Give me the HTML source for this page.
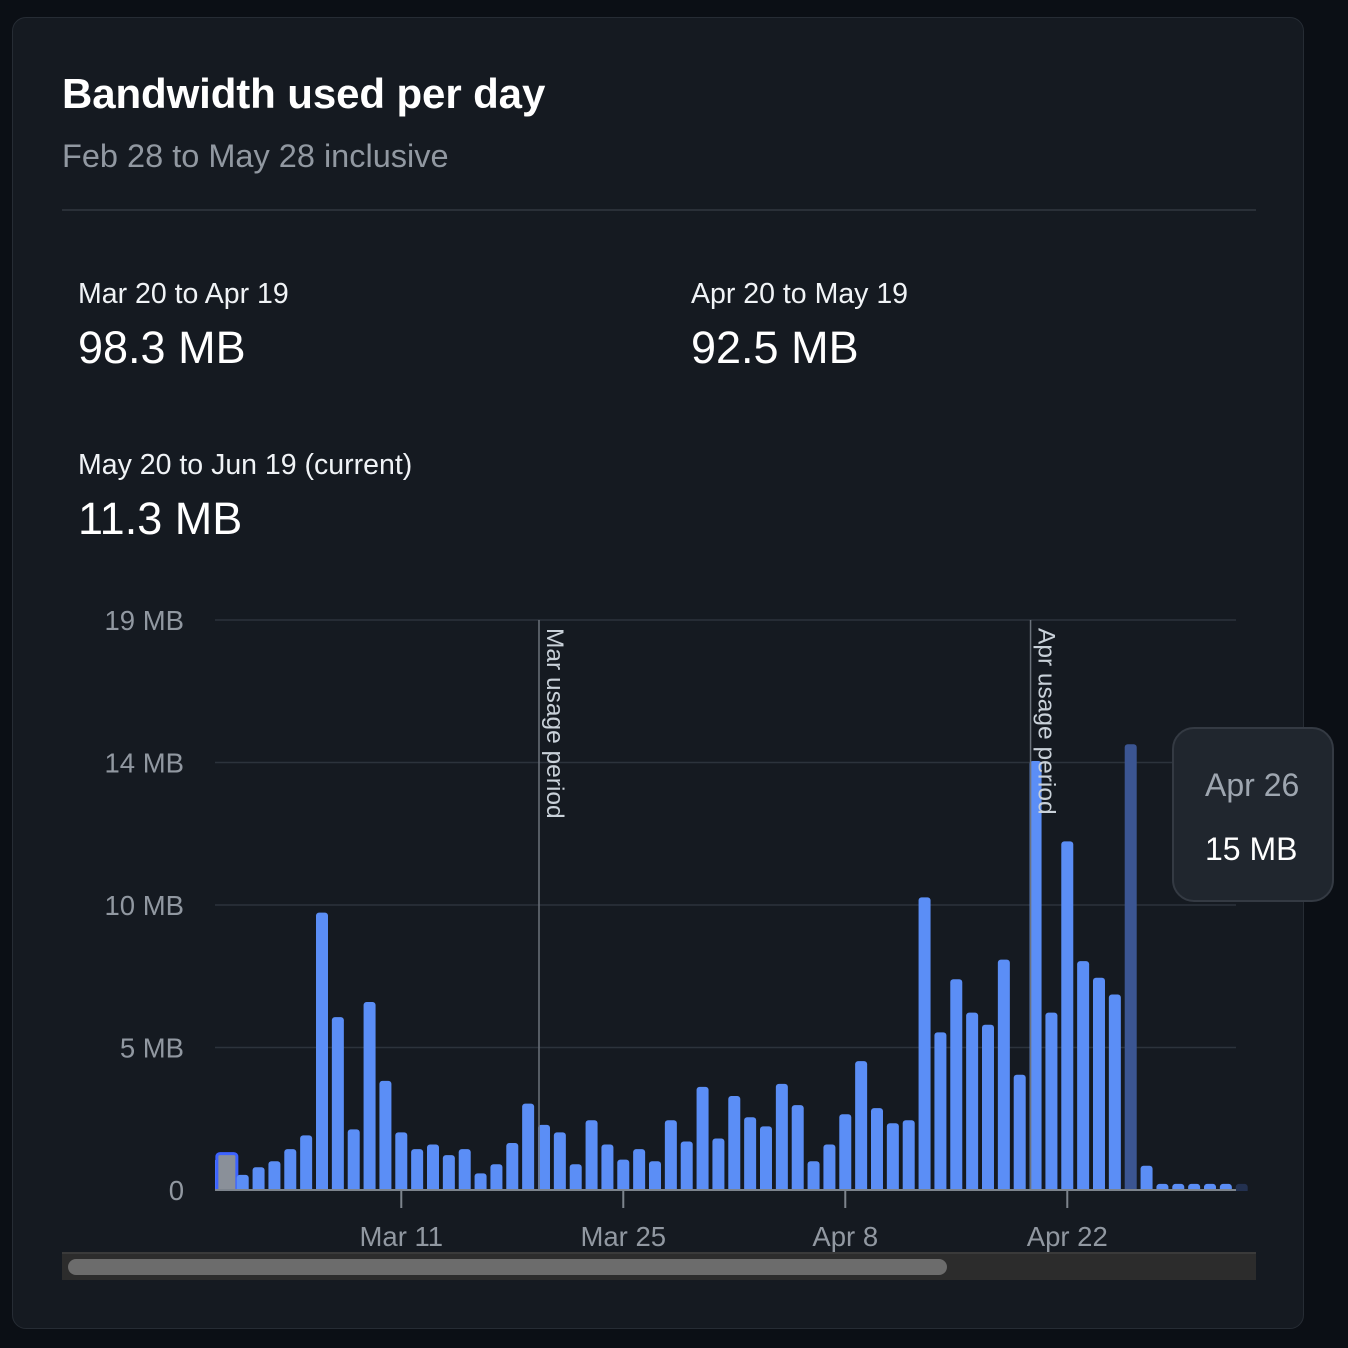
<!DOCTYPE html>
<html><head><meta charset="utf-8">
<style>
html,body{margin:0;padding:0;background:#0b0f15;width:1348px;height:1348px;overflow:hidden;font-family:"Liberation Sans",sans-serif;}
.card{position:absolute;left:12px;top:17px;width:1292px;height:1312px;background:#151a21;border:1px solid #262c34;border-radius:14px;box-sizing:border-box;}
.t{position:absolute;white-space:nowrap;}
</style></head><body>
<div class="card"></div>
<div class="t" style="left:62px;top:70px;font-size:42px;font-weight:bold;color:#fff;letter-spacing:-0.1px;">Bandwidth used per day</div>
<div class="t" style="left:62px;top:138px;font-size:32.5px;color:#9198a1;">Feb 28 to May 28 inclusive</div>
<div style="position:absolute;left:62px;top:209px;width:1194px;height:2px;background:#2a3038;"></div>
<div class="t" style="left:78px;top:278px;font-size:28.5px;color:#f0f3f6;">Mar 20 to Apr 19</div>
<div class="t" style="left:78px;top:322px;font-size:45px;color:#fff;">98.3 MB</div>
<div class="t" style="left:691px;top:278px;font-size:28.5px;color:#f0f3f6;">Apr 20 to May 19</div>
<div class="t" style="left:691px;top:322px;font-size:45px;color:#fff;">92.5 MB</div>
<div class="t" style="left:78px;top:449px;font-size:28.5px;color:#f0f3f6;">May 20 to Jun 19 (current)</div>
<div class="t" style="left:78px;top:493px;font-size:45px;color:#fff;">11.3 MB</div>

<svg id="chart" width="1348" height="1348" style="position:absolute;left:0;top:0;" xmlns="http://www.w3.org/2000/svg">
<defs><clipPath id="plotclip"><rect x="215" y="560" width="1041" height="631"/></clipPath></defs>
<g id="grid"></g><g id="marks" clip-path="url(#plotclip)"></g><g id="axes"></g>
</svg>
<div style="position:absolute;left:62px;top:1252px;width:1194px;height:28px;background:#2c2c2c;border-top:2px solid #3a3a3a;box-sizing:border-box;"></div>
<div style="position:absolute;left:68px;top:1259px;width:879px;height:16px;background:#6c6c6c;border-radius:8px;"></div>
<div style="position:absolute;left:1172px;top:727px;width:162px;height:175px;background:#20262e;border:2px solid #343a43;border-radius:22px;box-sizing:border-box;">
<div class="t" style="left:31px;top:38px;font-size:32px;color:#9ea6b0;">Apr 26</div>
<div class="t" style="left:31px;top:102px;font-size:32px;color:#fff;">15 MB</div>
</div>
<script>
const dayLabels=["Feb 28","Feb 29"];
const values=[1.0,1.2,0.5,0.75,0.95,1.35,1.8,9.15,5.7,2.0,6.2,3.6,1.9,1.35,1.5,1.15,1.35,0.55,0.85,1.55,2.85,2.15,1.9,0.85,2.3,1.5,1.0,1.35,0.95,2.3,1.6,3.4,1.7,3.1,2.4,2.1,3.5,2.8,0.95,1.5,2.5,4.25,2.7,2.2,2.3,9.65,5.2,6.95,5.85,5.45,7.6,3.8,14.15,5.85,11.5,7.55,7.0,6.45,14.7,0.8,0.2,0.2,0.2,0.2,0.2,0.2];
const yTickValues=[0,4.7,9.4,14.1,18.8];
const yTickLabels=["0","5 MB","10 MB","14 MB","19 MB"];
const xTickDays=[12,26,40,54];
const xTickLabels=["Mar 11","Mar 25","Apr 8","Apr 22"];
const periodDays=[21,52];
const periodLabels=["Mar usage period","Apr usage period"];
const focusDay=1, hoverDay=58, fadedDay=65;

const NS="http://www.w3.org/2000/svg";
const x0=211, band=15.857, y0=1190, yMax=18.8, plotH=570;
const xC=d=>x0+d*band;
const yS=v=>y0-v/yMax*plotH;
function mk(tag,attrs,parent,text){const e=document.createElementNS(NS,tag);for(const k in attrs)e.setAttribute(k,attrs[k]);if(text!==undefined)e.textContent=text;parent.appendChild(e);return e;}
const grid=document.getElementById('grid'),marks=document.getElementById('marks'),axes=document.getElementById('axes');
yTickValues.forEach((v,i)=>{
  if(i>0){const l=mk('line',{x1:215,x2:1236,y1:yS(v),y2:yS(v),stroke:'#2c333c','stroke-width':1.5},grid);
  
  }
  const t=mk('text',{x:184,y:yS(v)+10,'text-anchor':'end','font-size':27.5,fill:'#9198a1','font-family':'Liberation Sans, sans-serif'},axes,yTickLabels[i]);
  
  
});
values.forEach((v,d)=>{
  let fill='#5b8ef6';
  if(d===hoverDay)fill='#3b5592';
  if(d===fadedDay)fill='#233150';
  const w=12, h=Math.max(yS(0)-yS(v),3);
  const r=mk('rect',{x:xC(d)-w/2,y:yS(v),width:w,height:h+3,rx:3,fill:fill},marks);
  
  
  if(d===focusDay){r.setAttribute('fill','#8a9099');r.setAttribute('x',xC(d)-10);r.setAttribute('width',20);r.setAttribute('stroke','#3d63ff');r.setAttribute('stroke-width',3);}
});
periodDays.forEach((d,i)=>{
  const x=xC(d)-5;
  const l=mk('line',{x1:x,x2:x,y1:620,y2:1190,stroke:'#6b727b','stroke-width':1.5},axes);
  
  
  const t=mk('text',{x:0,y:0,transform:`translate(${x+8},628) rotate(90)`,'font-size':24.5,fill:'#c9d1d9','font-family':'Liberation Sans, sans-serif'},axes,periodLabels[i]);
  
  
});
const ax=mk('line',{x1:215,x2:1236,y1:1190,y2:1190,stroke:'#7d848d','stroke-width':2},axes);


xTickDays.forEach((d,i)=>{
  const tk=mk('line',{x1:xC(d),x2:xC(d),y1:1190,y2:1208,stroke:'#7d848d','stroke-width':2},axes);
  
  
  const t=mk('text',{x:xC(d),y:1246,'text-anchor':'middle','font-size':27.5,fill:'#9198a1','font-family':'Liberation Sans, sans-serif'},axes,xTickLabels[i]);
  
  
});
</script>
</body></html>
